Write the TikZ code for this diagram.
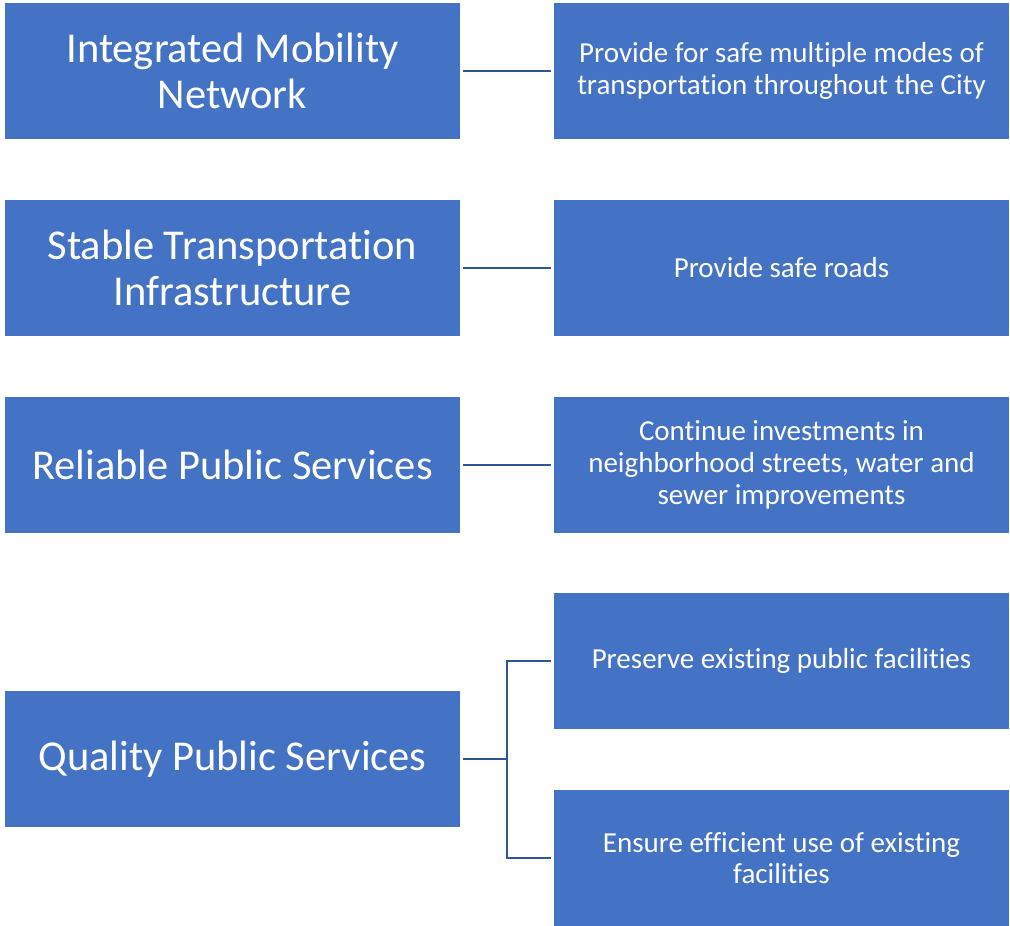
\documentclass[tikz,border=0pt]{standalone}
\usepackage{fontspec}
\setmainfont{Carlito}[Ligatures=NoCommon]
\definecolor{boxblue}{RGB}{68,114,196}
\definecolor{linkblue}{RGB}{47,85,151}
\begin{document}
\begin{tikzpicture}[x=1pt,y=-1pt,
  goalbox/.style={fill=boxblue,draw=none,minimum width=455pt,minimum height=136pt,
    inner sep=0pt,text=white,align=center,font=\fontsize{42.5}{46}\selectfont},
  actionbox/.style={fill=boxblue,draw=none,minimum width=455pt,minimum height=136pt,
    inner sep=0pt,text=white,align=center,font=\fontsize{29}{31.7}\selectfont},
  link/.style={draw=linkblue,line width=2.6pt}]
\useasboundingbox (0,0) rectangle (1010,926);
% goals (left column)
\node[goalbox] (g1) at (232.5,71) {Integrated Mobility\\Network};
\node[goalbox] (g2) at (232.5,268) {Stable Transportation\\Infrastructure};
\node[goalbox] (g3) at (232.5,465) {Reliable Public Services};
\node[goalbox] (g4) at (232.5,759) {Quality Public Services};
% actions (right column)
\node[actionbox] (a1) at (781.5,71) {Provide for safe multiple modes of\\transportation throughout the City};
\node[actionbox] (a2) at (781.5,268) {Provide safe roads};
\node[actionbox] (a3) at (781.5,465) {Continue investments in\\neighborhood streets, water and\\sewer improvements};
\node[actionbox] (a4) at (781.5,661) {Preserve existing public facilities};
\node[actionbox] (a5) at (781.5,858) {Ensure efficient use of existing\\facilities};
% links
\draw[link] ([xshift=3pt]g1.east) -- ([xshift=-3pt]a1.west);
\draw[link] ([xshift=3pt]g2.east) -- ([xshift=-3pt]a2.west);
\draw[link] ([xshift=3pt]g3.east) -- ([xshift=-3pt]a3.west);
\coordinate (fork) at (507,759);
\draw[link] ([xshift=3pt]g4.east) -- (fork);
\draw[link] ([xshift=-3pt]a4.west) -| (fork);
\draw[link] ([xshift=-3pt]a5.west) -| (fork);
\end{tikzpicture}
\end{document}
